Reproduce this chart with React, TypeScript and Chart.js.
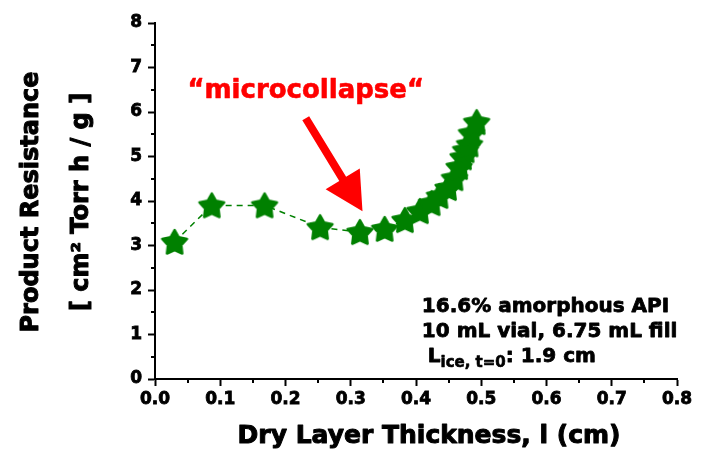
import React, { useEffect, useRef } from "react";
import { Chart, registerables } from "chart.js";

Chart.register(...registerables);

// Dry layer thickness (cm)
const thickness = [0.03, 0.087, 0.168, 0.253, 0.314, 0.352, 0.383, 0.406, 0.424, 0.436, 0.449, 0.459, 0.466, 0.472, 0.476, 0.482, 0.485, 0.493];
// Product resistance (cm^2 Torr h / g)
const resistance = [3.08, 3.9, 3.9, 3.41, 3.3, 3.37, 3.57, 3.77, 3.95, 4.11, 4.29, 4.51, 4.76, 4.98, 5.14, 5.27, 5.52, 5.77];

const xMinorTicks = [0.05, 0.15, 0.25, 0.35, 0.45, 0.55, 0.65, 0.75];
const yMinorTicks = [0.5, 1.5, 2.5, 3.5, 4.5, 5.5, 6.5, 7.5];

const xTitle = "Dry Layer Thickness, l (cm)";
const yTitle = ["Product Resistance", "[ cm\u00B2 Torr h / g ]"];
const calloutText = "\u201Cmicrocollapse\u201C";
const infoLines = ["16.6% amorphous API", "10 mL vial, 6.75 mL fill"];
const infoL = "L";
const infoSub = "ice, t=0";
const infoRest = ": 1.9 cm";

const FONT = "'DejaVu Sans', 'Liberation Sans', sans-serif";
const GREEN = "#008000";
const RED = "#ff0000";

function makeStar(color: string): HTMLCanvasElement {
  const c = document.createElement("canvas");
  c.width = 34;
  c.height = 34;
  const ctx = c.getContext("2d")!;
  const R = 13;
  const r = 7;
  const cx = 17;
  const cy = 18;
  ctx.beginPath();
  for (let i = 0; i < 10; i++) {
    const rad = i % 2 === 0 ? R : r;
    const a = -Math.PI / 2 + (i * Math.PI) / 5;
    const px = cx + rad * Math.cos(a);
    const py = cy + rad * Math.sin(a);
    if (i === 0) ctx.moveTo(px, py);
    else ctx.lineTo(px, py);
  }
  ctx.closePath();
  ctx.fillStyle = color;
  ctx.fill();
  ctx.lineJoin = "round";
  ctx.lineWidth = 2.5;
  ctx.strokeStyle = color;
  ctx.stroke();
  return c;
}

function heavyText(ctx: CanvasRenderingContext2D, text: string, x: number, y: number, color: string, sw = 0.8) {
  ctx.fillStyle = color;
  ctx.strokeStyle = color;
  ctx.lineWidth = sw;
  ctx.lineJoin = "round";
  ctx.fillText(text, x, y);
  ctx.strokeText(text, x, y);
}

const overlayPlugin = {
  id: "overlay",
  afterDraw(chart: any) {
    const { ctx, chartArea } = chart;
    const xs = chart.scales.x;
    const ys = chart.scales.y;
    ctx.save();
    // minor ticks
    ctx.strokeStyle = "#000";
    ctx.lineWidth = 2;
    for (const v of xMinorTicks) {
      const px = Math.round(xs.getPixelForValue(v));
      ctx.beginPath();
      ctx.moveTo(px, chartArea.bottom);
      ctx.lineTo(px, chartArea.bottom + 4);
      ctx.stroke();
    }
    for (const v of yMinorTicks) {
      const py = Math.round(ys.getPixelForValue(v));
      ctx.beginPath();
      ctx.moveTo(chartArea.left, py);
      ctx.lineTo(chartArea.left - 4, py);
      ctx.stroke();
    }

    // x axis title
    ctx.font = `bold 25px ${FONT}`;
    ctx.textAlign = "center";
    ctx.textBaseline = "alphabetic";
    heavyText(ctx, xTitle, xs.getPixelForValue(0.42), chartArea.bottom + 64, "#000", 1);

    // y axis title
    const midY = (chartArea.top + chartArea.bottom) / 2 + 1;
    ctx.save();
    ctx.translate(0, midY);
    ctx.rotate(-Math.PI / 2);
    ctx.font = `bold 24px ${FONT}`;
    ctx.textBaseline = "middle";
    heavyText(ctx, yTitle[0], 0, 32, "#000", 1);
    heavyText(ctx, yTitle[1], 0, 82, "#000", 1);
    ctx.restore();

    // callout text
    ctx.font = `bold 26px ${FONT}`;
    ctx.textAlign = "center";
    ctx.textBaseline = "alphabetic";
    heavyText(ctx, calloutText, xs.getPixelForValue(0.231), ys.getPixelForValue(6.32), RED, 0.6);

    // arrow
    const tipX = xs.getPixelForValue(0.318);
    const tipY = ys.getPixelForValue(3.77);
    const tailX = xs.getPixelForValue(0.231);
    const tailY = ys.getPixelForValue(5.86);
    const dx = tipX - tailX;
    const dy = tipY - tailY;
    const L = Math.hypot(dx, dy);
    const ux = dx / L;
    const uy = dy / L;
    const nx = -uy;
    const ny = ux;
    const headLen = 38;
    const headHalf = 20;
    const shaftHalf = 4;
    const bx = tipX - ux * headLen;
    const by = tipY - uy * headLen;
    ctx.fillStyle = RED;
    ctx.beginPath();
    ctx.moveTo(tailX + nx * shaftHalf, tailY + ny * shaftHalf);
    ctx.lineTo(bx + nx * shaftHalf, by + ny * shaftHalf);
    ctx.lineTo(bx + nx * headHalf, by + ny * headHalf);
    ctx.lineTo(tipX, tipY);
    ctx.lineTo(bx - nx * headHalf, by - ny * headHalf);
    ctx.lineTo(bx - nx * shaftHalf, by - ny * shaftHalf);
    ctx.lineTo(tailX - nx * shaftHalf, tailY - ny * shaftHalf);
    ctx.closePath();
    ctx.fill();

    // info block
    ctx.textAlign = "left";
    ctx.font = `bold 20px ${FONT}`;
    const left = xs.getPixelForValue(0.409);
    heavyText(ctx, infoLines[0], left, ys.getPixelForValue(1.5), "#000");
    heavyText(ctx, infoLines[1], left, ys.getPixelForValue(0.94), "#000");
    const b3 = ys.getPixelForValue(0.38);
    let cx = xs.getPixelForValue(0.418);
    heavyText(ctx, infoL, cx, b3, "#000");
    cx += ctx.measureText(infoL).width;
    ctx.font = `bold 15px ${FONT}`;
    heavyText(ctx, infoSub, cx, b3 + 5, "#000", 0.6);
    cx += ctx.measureText(infoSub).width;
    ctx.font = `bold 20px ${FONT}`;
    heavyText(ctx, infoRest, cx, b3, "#000");
    ctx.restore();
  },
};

export default function App() {
  const ref = useRef<HTMLCanvasElement | null>(null);
  useEffect(() => {
    if (!ref.current) return;
    const star = makeStar(GREEN);
    const tickFont = { family: FONT, size: 17, weight: "bold" as const };
    const chart = new Chart(ref.current, {
      type: "line",
      data: {
        datasets: [
          {
            data: thickness.map((t, i) => ({ x: t, y: resistance[i] })),
            borderColor: GREEN,
            backgroundColor: GREEN,
            borderWidth: 1.5,
            borderDash: [6, 5],
            pointStyle: star as any,
            pointRadius: 13,
            tension: 0,
            fill: false,
          },
        ],
      },
      options: {
        responsive: false,
        animation: false,
        devicePixelRatio: 1,
        layout: { padding: { top: 23, right: 30, left: 0, bottom: 0 } },
        plugins: { legend: { display: false }, tooltip: { enabled: false } },
        scales: {
          x: {
            type: "linear",
            min: 0,
            max: 0.8,
            afterFit: (s: any) => {
              s.height = 72;
            },
            ticks: {
              stepSize: 0.1,
              autoSkip: false,
              maxRotation: 0,
              color: "#000",
              font: tickFont,
              padding: 3,
              textStrokeColor: "#000",
              textStrokeWidth: 0.8,
              callback: (v: any) => Number(v).toFixed(1),
            },
            grid: {
              drawOnChartArea: false,
              drawTicks: true,
              tickLength: 7,
              tickWidth: 2,
              tickColor: "#000",
            },
            border: { display: true, color: "#000", width: 2 },
          },
          y: {
            type: "linear",
            min: 0,
            max: 8,
            afterFit: (s: any) => {
              s.width = 155;
            },
            ticks: {
              stepSize: 1,
              autoSkip: false,
              color: "#000",
              font: tickFont,
              padding: 6,
              textStrokeColor: "#000",
              textStrokeWidth: 0.8,
            },
            grid: {
              drawOnChartArea: false,
              drawTicks: true,
              tickLength: 7,
              tickWidth: 2,
              tickColor: "#000",
            },
            border: { display: true, color: "#000", width: 2 },
          },
        },
      },
      plugins: [overlayPlugin],
    });
    return () => chart.destroy();
  }, []);
  return (
    <div style={{ position: "absolute", left: 0, top: 0, width: 707, height: 451, background: "#fff" }}>
      <canvas ref={ref} width={707} height={451} style={{ width: 707, height: 451 }} />
    </div>
  );
}
